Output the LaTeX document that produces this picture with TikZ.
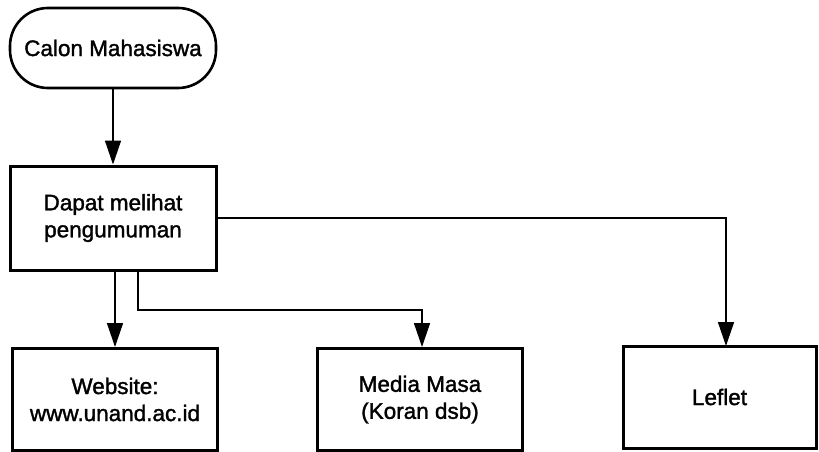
\documentclass[tikz,border=0pt]{standalone}
\usepackage{fontspec}
\setmainfont{Liberation Sans}
\usetikzlibrary{arrows.meta}
\begin{document}
\begin{tikzpicture}[x=1pt,y=-1pt,
  every node/.style={font=\fontsize{22.5}{27}\selectfont\addfontfeature{FakeBold=1.5}, align=center, text=black},
  terminal/.style={draw, line width=2.6pt, rounded corners=38pt, minimum width=206pt, minimum height=80pt, inner sep=0pt},
  procbox/.style={draw, line width=3pt, minimum width=205pt, minimum height=102pt, inner sep=0pt},
  conn/.style={line width=1.5pt, -{Triangle[length=24pt,width=16pt]}}]
  \useasboundingbox (0,0) rectangle (819,452);

  % nodes
  \node[terminal] (calon) at (113,48) {Calon Mahasiswa};
  \node[procbox, minimum width=206pt, minimum height=104pt] (dapat) at (113,218) {Dapat melihat\\pengumuman};
  \node[procbox] (web) at (115,399.5) {Website:\\www.unand.ac.id};
  \node[procbox] (media) at (420,399.5) {Media Masa\\(Koran dsb)};
  \node[procbox, minimum width=193pt] (leflet) at (719.5,397) {Leflet};

  % branch points
  \coordinate (split) at (138,310);
  \coordinate (lefin) at (726,346);

  % connectors
  \draw[conn] (calon.south) -- (dapat.north);
  \draw[conn] (dapat.east) -| (lefin);
  \draw[conn] (dapat.south -| web.north) -- (web.north);
  \draw[conn] (split |- dapat.south) |- ([xshift=2pt]split -| media.north) -- ([xshift=2pt]media.north);
\end{tikzpicture}
\end{document}
